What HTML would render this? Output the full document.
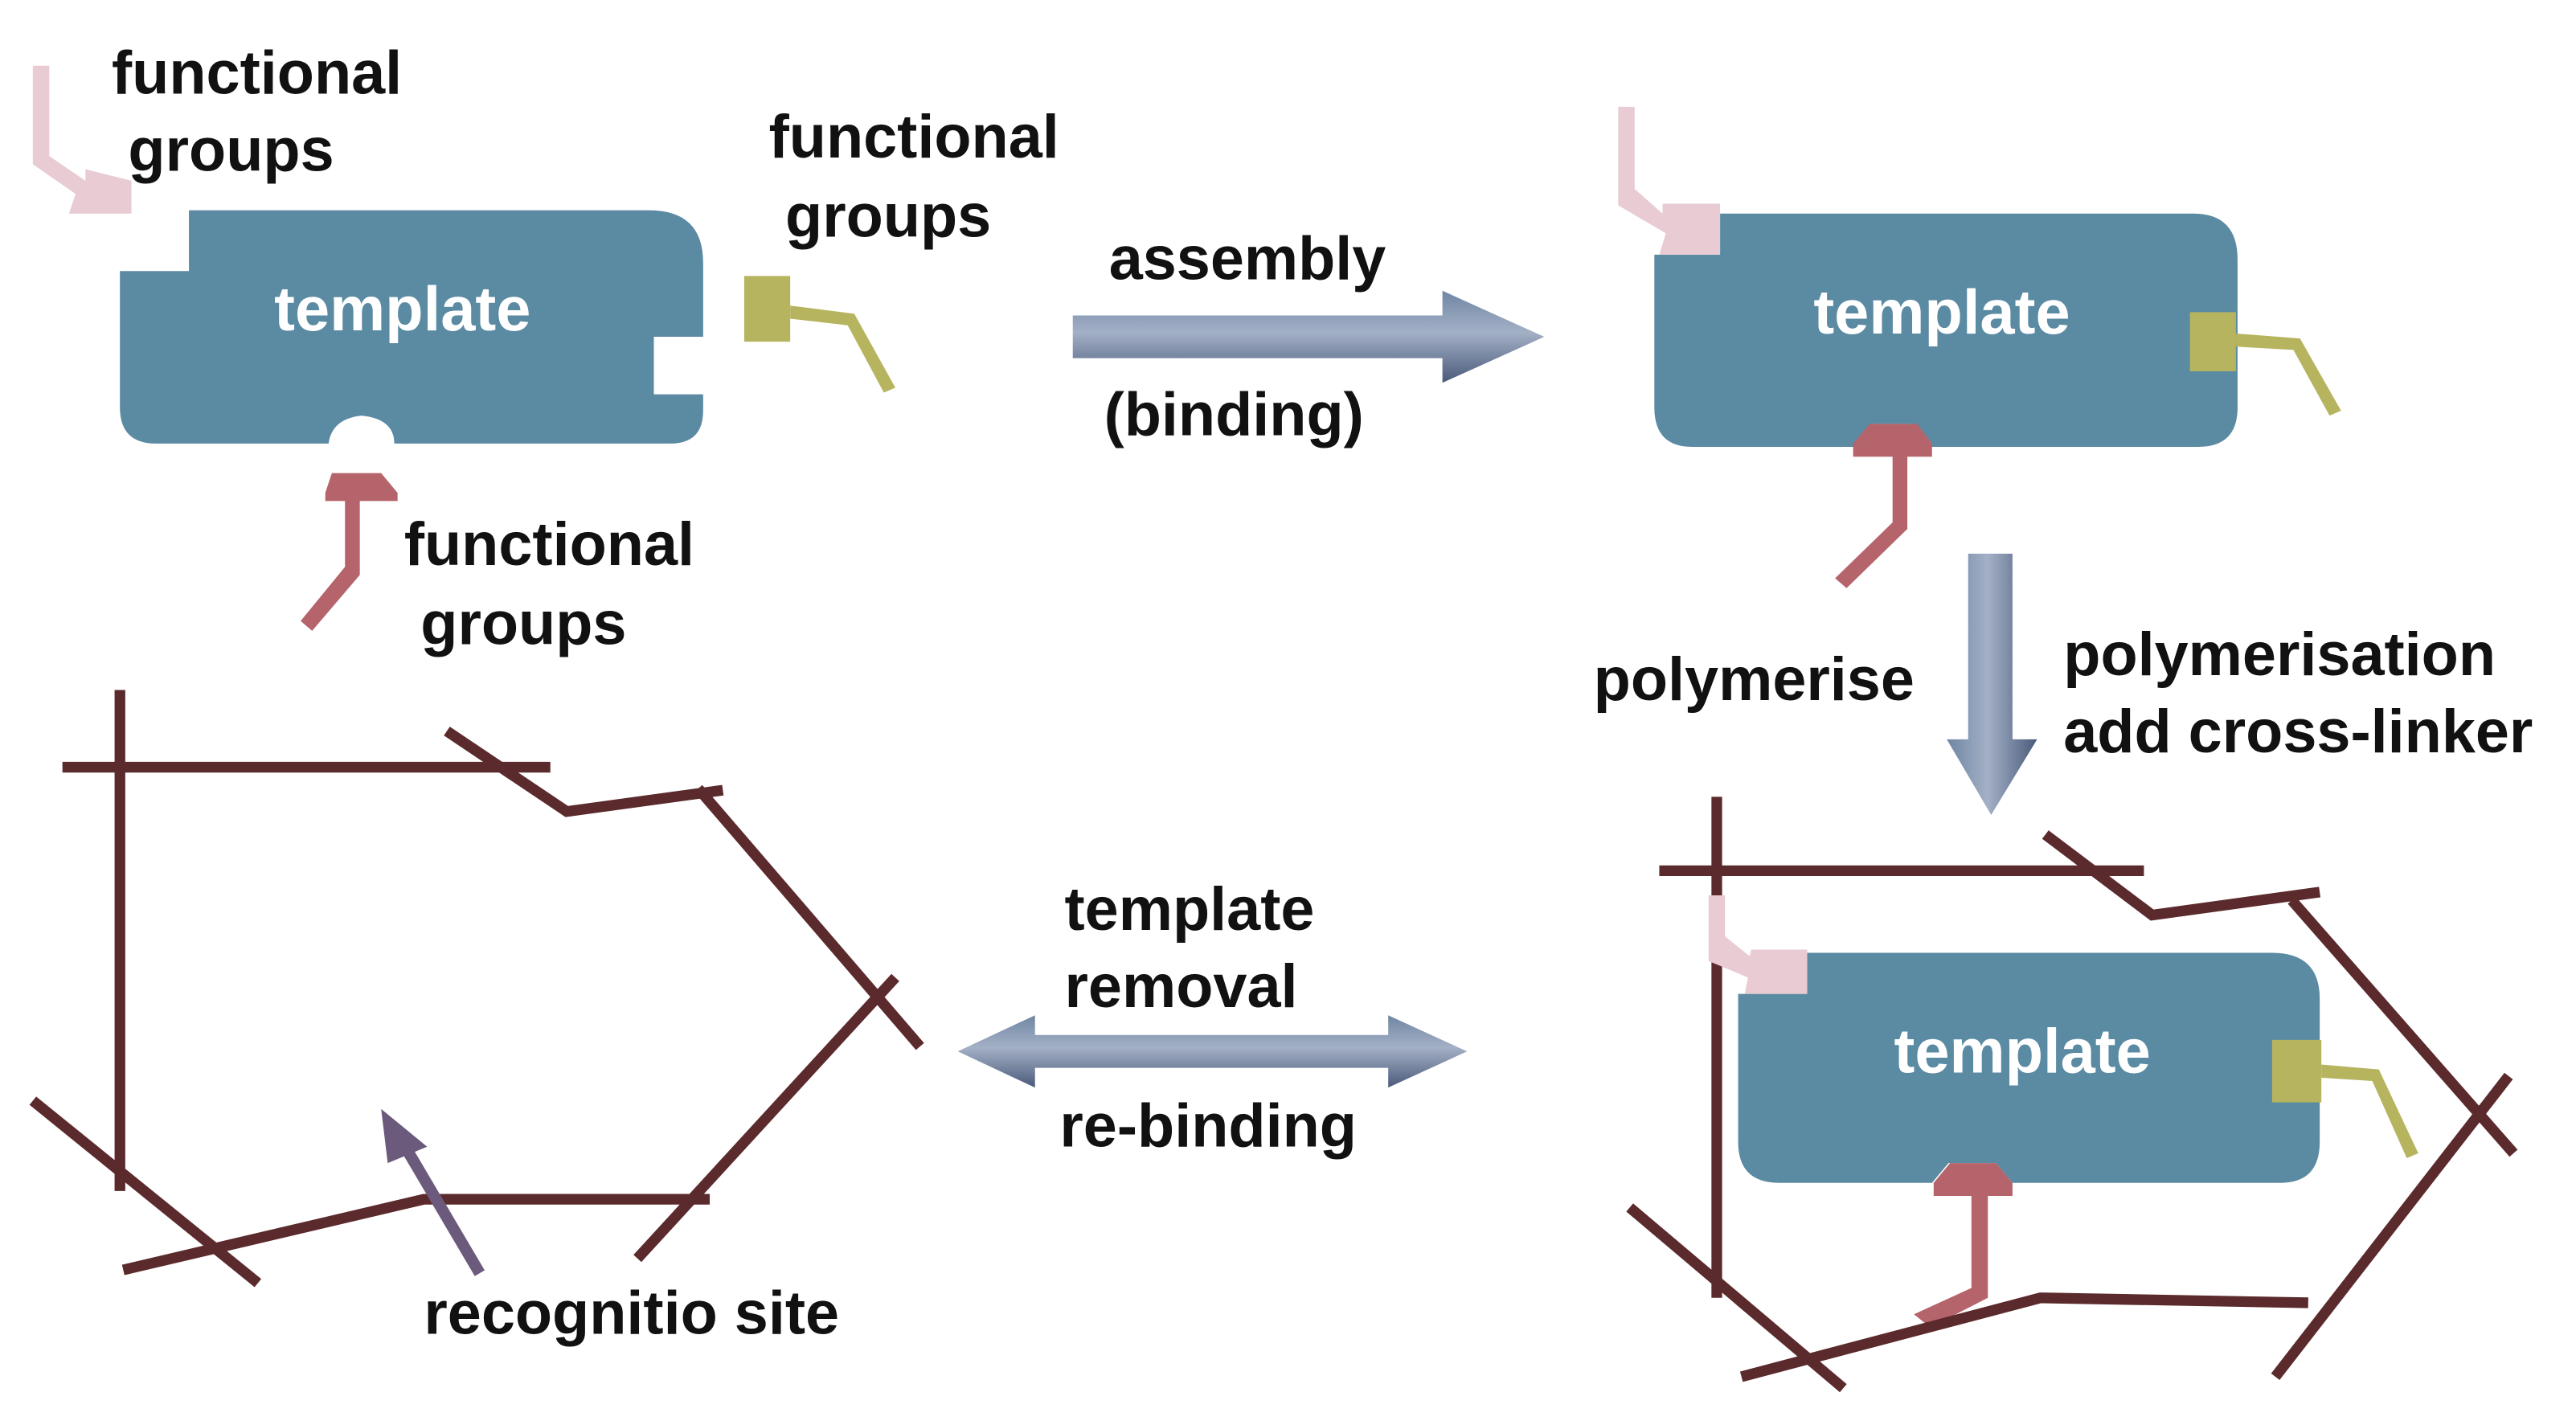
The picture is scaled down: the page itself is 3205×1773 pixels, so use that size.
<!DOCTYPE html>
<html><head><meta charset="utf-8"><style>
html,body{margin:0;padding:0;background:#fff;}
svg{display:block;}
text{font-family:"Liberation Sans",Arial,sans-serif;font-weight:bold;}
</style></head><body>
<svg width="3205" height="1773" viewBox="0 0 1568 867.4" preserveAspectRatio="none" xmlns="http://www.w3.org/2000/svg">
<defs>
<linearGradient id="gh" x1="0" y1="0" x2="0" y2="1">
<stop offset="0" stop-color="#6f86a3"/><stop offset="0.45" stop-color="#a3b0c6"/><stop offset="1" stop-color="#4a5a7a"/>
</linearGradient>
<linearGradient id="gv" x1="0" y1="0" x2="1" y2="0">
<stop offset="0" stop-color="#6f86a3"/><stop offset="0.45" stop-color="#a3b0c6"/><stop offset="1" stop-color="#4a5a7a"/>
</linearGradient>
</defs>

<!-- Template 1 -->
<path d="M115,128 H395 Q428,128 428,160 V205 H398 V240 H428 V250 Q428,270 408,270 H240 Q240,255 220,253 Q202,255 200,270 H95 Q73,270 73,248 V165 H115 Z" fill="#5b8aa3"/>
<text x="245" y="201" font-size="38" fill="#fff" text-anchor="middle">template</text>
<!-- pink 1 -->
<path d="M20,40 H30 V95 L52,110 L52,103 L80,110 V130 H42 L46,118 L20,100 Z" fill="#e8cbd3"/>
<!-- olive 1 -->
<rect x="453" y="168" width="28" height="40" fill="#b6b45e"/>
<path d="M481,186 L520,191 L545,236 L538,239 L516,198 L481,194 Z" fill="#b6b45e"/>
<!-- red 1 -->
<path d="M202,288 H232 L242,300 V305 H198 V300 Z" fill="#b4646a"/>
<path d="M210,304 H219 V350 L190,384 L183,378 L210,345 Z" fill="#b4646a"/>

<text x="68" y="57" font-size="37" fill="#111">functional</text>
<text x="78" y="104" font-size="37" fill="#111">groups</text>
<text x="468" y="96" font-size="37" fill="#111">functional</text>
<text x="478" y="144" font-size="37" fill="#111">groups</text>
<text x="246" y="344" font-size="37" fill="#111">functional</text>
<text x="256" y="392" font-size="37" fill="#111">groups</text>

<!-- assembly arrow -->
<text x="675" y="170" font-size="37" fill="#111">assembly</text>
<text x="672" y="265" font-size="37" fill="#111">(binding)</text>
<path d="M653,192 H878 V177 L940,205 L878,233 V218 H653 Z" fill="url(#gh)"/>

<!-- Template 2 -->
<path d="M1047,130 H1335 Q1362,130 1362,158 V248 Q1362,272 1338,272 H1175 L1165,258 H1140 L1130,272 H1030 Q1007,272 1007,248 V155 H1047 Z" fill="#5b8aa3"/>
<text x="1182" y="203" font-size="38" fill="#fff" text-anchor="middle">template</text>
<path d="M985,65 H995 V115 L1012,130 L1012,124 H1047 V155 H1010 L1014,142 L985,125 Z" fill="#e8cbd3"/>
<rect x="1333" y="190" width="28" height="36" fill="#b6b45e"/>
<path d="M1361,203 L1400,206 L1425,250 L1418,253 L1396,213 L1361,211 Z" fill="#b6b45e"/>
<path d="M1138,258 H1167 L1176,270 V278 H1128 V270 Z" fill="#b4646a"/>
<path d="M1152,277 H1161 V322 L1124,358 L1117,352 L1152,318 Z" fill="#b4646a"/>

<!-- down arrow -->
<path d="M1198,337 H1225 V450 H1240 L1212,496 L1185,450 H1198 Z" fill="url(#gv)"/>
<text x="970" y="426" font-size="37" fill="#111">polymerise</text>
<text x="1256" y="411" font-size="37" fill="#111">polymerisation</text>
<text x="1256" y="458" font-size="37" fill="#111">add cross-linker</text>

<!-- polymer 3 -->
<g stroke="#5b2a2c" stroke-width="6.5" fill="none" stroke-linecap="butt">
<line x1="1045" y1="485" x2="1045" y2="790"/>
<line x1="1010" y1="530" x2="1305" y2="530"/>
<polyline points="1245,508 1310,557 1412,543"/>
</g>
<!-- Template 3 -->
<path d="M1100,580 H1383 Q1412,580 1412,608 V695 Q1412,720 1388,720 H1225 L1215,708 H1186 L1176,720 H1083 Q1058,720 1058,695 V605 H1100 Z" fill="#5b8aa3"/>
<text x="1231" y="653" font-size="38" fill="#fff" text-anchor="middle">template</text>
<path d="M1040,545 H1050 V570 L1065,582 L1066,578 H1100 V605 H1062 L1064,595 L1040,585 Z" fill="#e8cbd3"/>
<rect x="1383" y="633" width="30" height="38" fill="#b6b45e"/>
<path d="M1413,648 L1448,651 L1472,702 L1465,705 L1444,658 L1413,656 Z" fill="#b6b45e"/>
<path d="M1187,708 H1215 L1225,720 V728 H1177 V720 Z" fill="#b4646a"/>
<path d="M1200,727 H1210 V790 L1175,808 L1165,800 L1200,784 Z" fill="#b4646a"/>
<g stroke="#5b2a2c" stroke-width="6.5" fill="none">
<line x1="1395" y1="548" x2="1530" y2="702"/>
<line x1="1527" y1="655" x2="1385" y2="838"/>
<polyline points="1060,838 1242,790 1405,793"/>
<line x1="992" y1="735" x2="1122" y2="845"/>

<!-- polymer 1 -->
<line x1="73" y1="420" x2="73" y2="725"/>
<line x1="38" y1="467" x2="335" y2="467"/>
<polyline points="272,445 345,494 440,481"/>
<line x1="425" y1="480" x2="560" y2="637"/>
<line x1="545" y1="595" x2="388" y2="766"/>
<polyline points="75,773 258,730 432,730"/>
<line x1="20" y1="670" x2="157" y2="781"/>
</g>
<!-- purple arrow -->
<line x1="292" y1="775" x2="246" y2="697" stroke="#6c5a7c" stroke-width="7"/>
<path d="M232,675 L260,698 L236,708 Z" fill="#6c5a7c"/>
<text x="258" y="812" font-size="37" fill="#111">recognitio site</text>

<!-- double arrow -->
<text x="648" y="566" font-size="37" fill="#111">template</text>
<text x="648" y="613" font-size="37" fill="#111">removal</text>
<text x="645" y="698" font-size="37" fill="#111">re-binding</text>
<path d="M583,640 L630,618 V630 H845 V618 L893,640 L845,662 V650 H630 V662 Z" fill="url(#gh)"/>
</svg>
</body></html>
